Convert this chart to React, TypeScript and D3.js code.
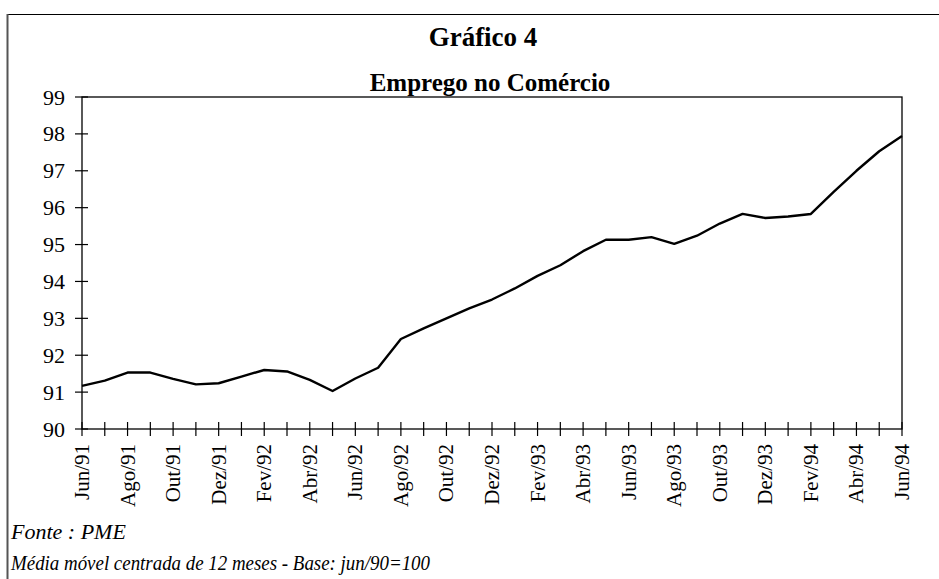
import React from "react";
import * as d3 from "d3";

const months = [
  "Jun/91", "Jul/91", "Ago/91", "Set/91", "Out/91", "Nov/91", "Dez/91",
  "Jan/92", "Fev/92", "Mar/92", "Abr/92", "Mai/92", "Jun/92", "Jul/92",
  "Ago/92", "Set/92", "Out/92", "Nov/92", "Dez/92", "Jan/93", "Fev/93",
  "Mar/93", "Abr/93", "Mai/93", "Jun/93", "Jul/93", "Ago/93", "Set/93",
  "Out/93", "Nov/93", "Dez/93", "Jan/94", "Fev/94", "Mar/94", "Abr/94",
  "Mai/94", "Jun/94",
];
const emprego = [
  91.17, 91.31, 91.53, 91.53, 91.36, 91.21, 91.24, 91.42, 91.6, 91.56,
  91.33, 91.03, 91.37, 91.66, 92.44, 92.73, 93.0, 93.27, 93.51, 93.81,
  94.15, 94.44, 94.82, 95.13, 95.13, 95.2, 95.02, 95.24, 95.57, 95.83,
  95.72, 95.76, 95.83, 96.43, 97.0, 97.53, 97.94,
];
const yTicks = [90, 91, 92, 93, 94, 95, 96, 97, 98, 99];

const W = 939, H = 579;
const left = 82, right = 902, top = 97, bottom = 429;
const font = "'Liberation Serif', 'Times New Roman', serif";

export default function App() {
  const x = d3.scaleLinear().domain([0, months.length - 1]).range([left, right]);
  const y = d3.scaleLinear().domain([90, 99]).range([bottom, top]);
  const line = d3.line<number>().x((_, i) => x(i)).y(d => y(d));

  return (
    <svg width={W} height={H} style={{ position: "absolute", left: 0, top: 0 }}
      fontFamily={font}>
      <rect x={0} y={0} width={W} height={H} fill="#fff" />
      {/* outer frame, cut off at right and bottom */}
      <line x1={7} x2={W + 5} y1={14.5} y2={14.5} stroke="#000" strokeWidth={1.2} />
      <line x1={7.5} x2={7.5} y1={14} y2={H + 5} stroke="#555" strokeWidth={2} />

      <text x={483} y={46} textAnchor="middle" fontSize={27} fontWeight="bold">Gráfico 4</text>
      <text x={490} y={91} textAnchor="middle" fontSize={25} fontWeight="bold">Emprego no Comércio</text>

      {/* plot box */}
      <rect x={left} y={top} width={right - left} height={bottom - top} fill="none" stroke="#000" strokeWidth={1.3} />

      {yTicks.map(t => (
        <g key={t}>
          <line x1={left - 7} x2={left + 6} y1={y(t)} y2={y(t)} stroke="#000" strokeWidth={1.2} />
          <text x={65} y={y(t) + 7.5} textAnchor="end" fontSize={22}>{t}</text>
        </g>
      ))}

      {months.map((m, i) => (
        <g key={m}>
          <line x1={x(i)} x2={x(i)} y1={bottom - 7} y2={bottom + 7} stroke="#000" strokeWidth={1.2} />
          {i % 2 === 0 && (
            <text transform={`translate(${x(i) + 7},${444}) rotate(-90)`} textAnchor="end"
              fontSize={21}>{m}</text>
          )}
        </g>
      ))}

      <path d={line(emprego) ?? ""} fill="none" stroke="#000" strokeWidth={2.4} strokeLinejoin="round" />

      <text x={11} y={539} fontSize={22} fontStyle="italic">Fonte : PME</text>
      <text x={11} y={570} fontSize={22} fontStyle="italic" textLength={419}
        lengthAdjust="spacingAndGlyphs">Média móvel centrada de 12 meses - Base: jun/90=100</text>
    </svg>
  );
}
